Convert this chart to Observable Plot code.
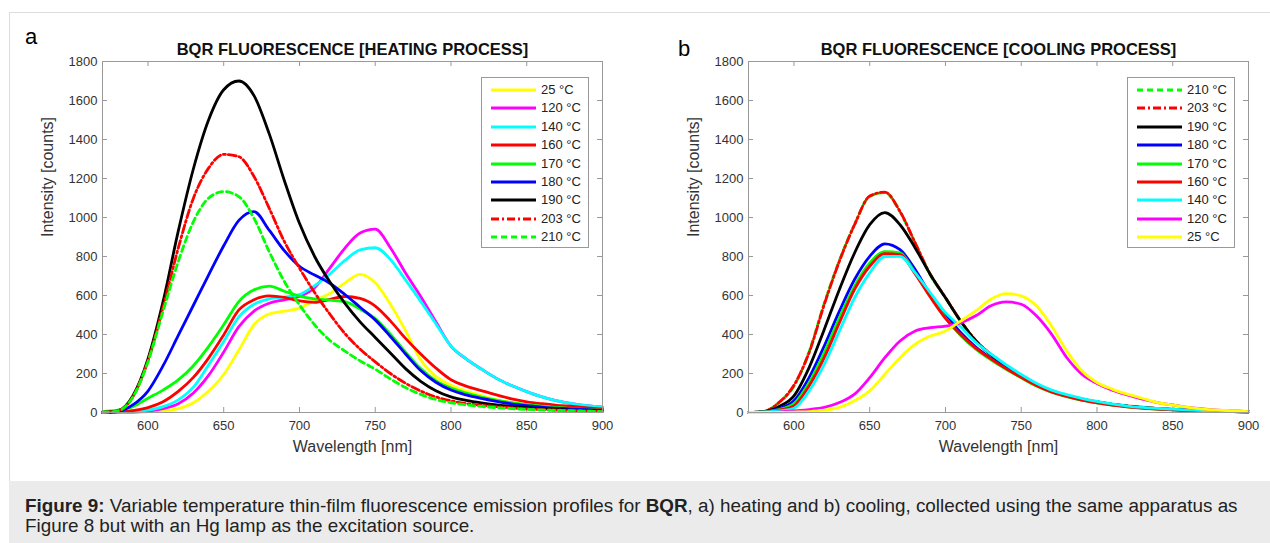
<!DOCTYPE html>
<html><head><meta charset="utf-8">
<script src="https://cdn.jsdelivr.net/npm/d3@7"></script>
<script src="https://cdn.jsdelivr.net/npm/@observablehq/plot@0.6"></script>
<style>
body{margin:0;width:1270px;height:543px;position:relative;overflow:hidden;background:#fff;font-family:"Liberation Sans",Arial,sans-serif;}
#frame{position:absolute;left:9px;top:12px;width:1261px;height:469px;border-left:1px solid #ddd;border-top:1px solid #ddd;box-sizing:border-box;}
#caption{position:absolute;left:9px;top:481px;width:1261px;height:62px;background:#ebebeb;box-sizing:border-box;padding:14.5px 0 0 16px;font-size:18.85px;line-height:20px;color:#222;white-space:nowrap;}
.panel{position:absolute;top:30px;}
.letter{position:absolute;font-size:22px;color:#000;}
.legend{position:absolute;border:1px solid #999;background:#fff;box-sizing:border-box;padding-top:3px;}
.row{height:18.4px;position:relative;}
.row svg{position:absolute;left:8px;top:4px;}
.row span{position:absolute;left:59px;top:1px;font-size:13px;color:#222;line-height:16px;}
</style></head>
<body>
<div id="frame"></div>
<div class="letter" style="left:25px;top:24px;">a</div>
<div class="letter" style="left:678px;top:36px;">b</div>
<div id="panelA" class="panel" style="left:20px;"></div>
<div id="panelB" class="panel" style="left:666px;"></div>
<div id="legendA" class="legend" style="left:481px;top:77px;width:108px;height:171px;"></div>
<div id="legendB" class="legend" style="left:1127px;top:77px;width:108px;height:171px;"></div>
<div id="caption"><b>Figure 9:</b> Variable temperature thin-film fluorescence emission profiles for <b>BQR</b>, a) heating and b) cooling, collected using the same apparatus as<br>Figure 8 but with an Hg lamp as the excitation source.</div>
<script>
const wl = [570,580,590,600,610,620,630,640,650,660,670,680,690,700,710,720,730,740,750,760,770,780,790,800,810,820,830,840,850,860,870,880,890,900];
const xTicks = [600,650,700,750,800,850,900];
const yTicks = [0,200,400,600,800,1000,1200,1400,1600,1800];

// Heating process
const h25  = [0,0,0,3,8,20,50,110,195,320,450,505,520,535,575,610,665,708,665,555,420,270,185,140,110,87,66,50,38,30,24,19,15,11];
const h120 = [0,0,2,8,20,45,100,190,310,440,520,560,578,595,640,740,843,920,940,845,715,595,465,340,275,223,175,138,107,80,60,46,35,27];
const h140 = [0,0,3,12,30,65,130,244,364,490,555,583,592,605,650,710,780,834,845,785,680,570,455,340,275,223,175,138,107,80,60,46,35,27];
const h160 = [0,3,10,25,55,108,180,279,398,526,578,598,590,572,565,580,595,585,546,470,380,300,228,168,135,112,90,70,55,45,37,31,24,18];
const h170 = [5,12,30,73,115,167,240,338,450,569,629,648,622,597,583,576,568,530,482,402,310,225,163,125,99,79,63,50,40,32,26,20,15,11];
const h180 = [0,5,39,110,240,395,550,705,855,985,1030,935,830,750,705,663,605,540,475,390,300,215,155,115,90,72,57,44,35,28,22,18,14,10];
const h190 = [0,8,85,275,570,930,1250,1500,1655,1700,1625,1430,1190,970,800,670,560,465,385,305,225,160,112,80,62,49,39,31,25,20,16,12,9,7];
const h203 = [0,8,80,265,540,843,1099,1253,1324,1312,1210,1048,877,740,615,505,405,325,260,200,150,110,80,60,46,37,30,24,19,15,12,10,8,6];
const h210 = [0,8,78,260,520,774,979,1099,1133,1107,996,825,672,552,450,370,315,265,222,172,128,93,67,50,39,31,25,20,16,13,11,9,7,5];

// Cooling process
const c210 = [0,5,50,135,312,560,780,965,1108,1128,1030,868,705,588,468,368,296,236,186,143,110,86,68,54,42,33,26,20,16,12,9,7,5,3];
const c203 = [0,5,51,140,307,554,776,963,1110,1130,1031,870,708,590,470,370,298,238,188,145,112,88,70,55,43,34,27,21,17,13,10,8,6,4];
const c190 = [0,4,30,85,230,426,631,818,963,1025,963,844,708,588,469,367,295,235,186,142,110,86,68,54,42,33,26,20,16,12,9,7,5,3];
const c180 = [0,3,20,60,179,341,520,682,801,865,835,733,605,503,410,335,278,228,183,140,108,84,66,52,40,31,24,19,15,11,8,6,4,3];
const c170 = [0,3,15,46,153,307,486,648,767,825,818,716,597,486,395,325,270,222,178,136,104,81,63,50,38,29,22,17,13,10,8,6,4,3];
const c160 = [0,2,12,34,136,281,460,631,750,815,810,711,592,483,400,330,275,225,180,138,105,82,64,50,38,29,22,17,13,10,8,6,4,3];
const c140 = [0,2,8,22,111,247,418,588,716,800,801,716,614,512,440,360,300,245,195,150,115,92,73,57,44,33,26,21,17,13,10,8,6,4];
const c120 = [0,0,2,8,15,26,51,94,179,281,367,418,435,443,460,496,547,567,555,496,402,282,197,149,115,90,68,51,39,26,19,12,9,5];
const c25  = [0,0,0,2,5,12,26,60,111,196,281,350,392,418,469,521,581,610,598,547,444,316,214,154,120,94,73,51,38,26,17,12,9,5];

const heatLabels = ["25 °C","120 °C","140 °C","160 °C","170 °C","180 °C","190 °C","203 °C","210 °C"];
const coolLabels = ["210 °C","203 °C","190 °C","180 °C","170 °C","160 °C","140 °C","120 °C","25 °C"];

const style = {
  "25 °C": {color:"#ffff00", dash:null},
  "120 °C": {color:"#ff00ff", dash:null},
  "140 °C": {color:"#00ffff", dash:null},
  "160 °C": {color:"#ff0000", dash:null},
  "170 °C": {color:"#00ff00", dash:null},
  "180 °C": {color:"#0000ff", dash:null},
  "190 °C": {color:"#000000", dash:null},
  "203 °C": {color:"#ff0000", dash:"8,3,2,3"},
  "210 °C": {color:"#00ff00", dash:"6,4"}
};

const heatSeries = [h25,h120,h140,h160,h170,h180,h190,h203,h210].map((v,i)=>({label:heatLabels[i], values:v}));
const coolSeries = [c210,c203,c190,c180,c170,c160,c140,c120,c25].map((v,i)=>({label:coolLabels[i], values:v}));

const axisColor = "#999";
const textColor = "#333";

function panel(series, title) {
  return Plot.plot({
    width: 600, height: 440,
    marginLeft: 82, marginRight: 18, marginTop: 31, marginBottom: 58,
    style: {fontFamily: "Liberation Sans, Arial, sans-serif", fontSize: "13px", color: textColor, background: "transparent", overflow: "visible"},
    x: {domain: [570, 900], label: null},
    y: {domain: [0, 1800], label: null},
    marks: [
      Plot.axisX(xTicks, {tickSize: 0, tickPadding: 8, fontSize: 13, fill: textColor, label: null, tickFormat: d => String(d)}),
      Plot.axisY(yTicks, {tickSize: 0, tickPadding: 5, fontSize: 13, fill: textColor, label: null, tickFormat: d => String(d)}),
      Plot.tickX(xTicks, {x: d => d, insetTop: 346, stroke: axisColor}),
      Plot.tickX(xTicks, {x: d => d, insetBottom: 346, stroke: axisColor}),
      Plot.tickY(yTicks, {y: d => d, insetRight: 495, stroke: axisColor}),
      Plot.tickY(yTicks, {y: d => d, insetLeft: 495, stroke: axisColor}),
      ...series.map(s => Plot.line(wl, {
        x: wl, y: s.values, stroke: style[s.label].color, strokeWidth: 2.8,
        strokeDasharray: style[s.label].dash, curve: "monotone-x"
      })),
      Plot.frame({stroke: axisColor}),
      Plot.text([title], {frameAnchor: "top", dy: -18, fontWeight: "bold", fontSize: 16.5, fill: "#111"}),
      Plot.text(["Wavelength [nm]"], {frameAnchor: "bottom", dy: 39, fontSize: 16, fill: textColor}),
      Plot.text(["Intensity [counts]"], {frameAnchor: "left", dx: -55, rotate: -90, fontSize: 16, fill: textColor})
    ]
  });
}

function legend(el, labels) {
  for (const l of labels) {
    const row = document.createElement("div");
    row.className = "row";
    const st = style[l];
    row.innerHTML = `<svg width="48" height="10"><line x1="1" y1="5" x2="46" y2="5" stroke="${st.color}" stroke-width="3" ${st.dash ? `stroke-dasharray="${st.dash}"` : ""}/></svg><span>${l}</span>`;
    el.appendChild(row);
  }
}

document.getElementById("panelA").appendChild(panel(heatSeries, "BQR FLUORESCENCE [HEATING PROCESS]"));
document.getElementById("panelB").appendChild(panel(coolSeries, "BQR FLUORESCENCE [COOLING PROCESS]"));
legend(document.getElementById("legendA"), heatLabels);
legend(document.getElementById("legendB"), coolLabels);
</script>
</body></html>
